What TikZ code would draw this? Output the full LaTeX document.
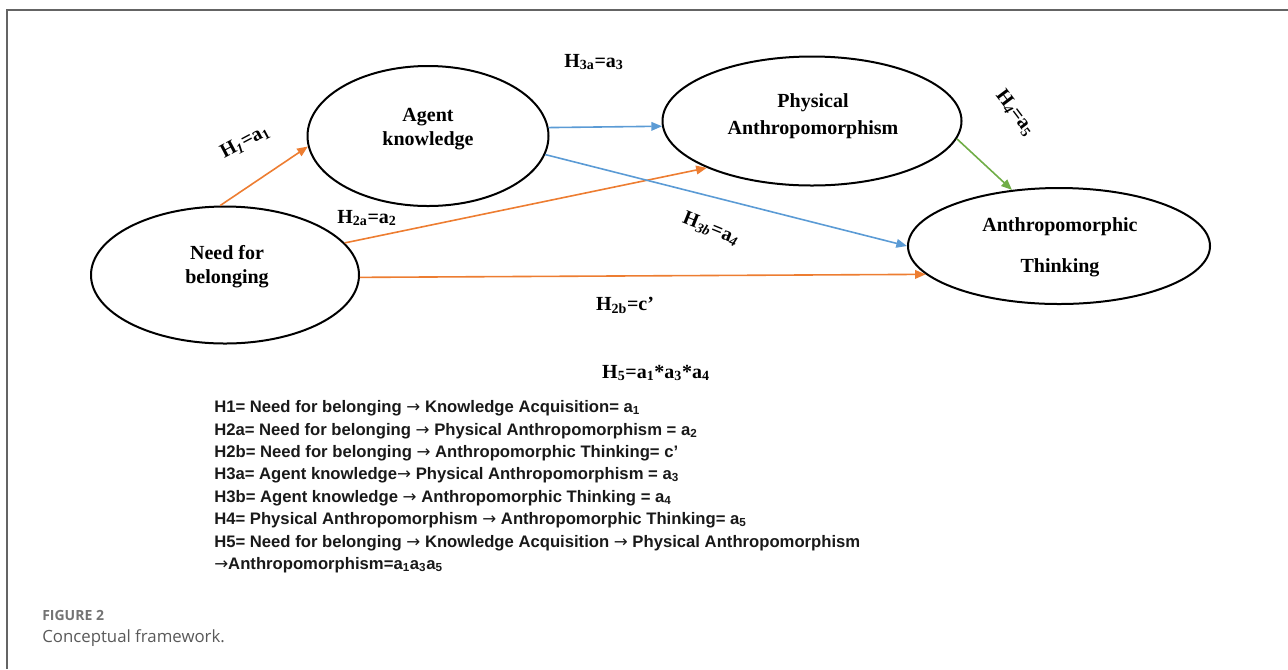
\documentclass[tikz,border=0pt]{standalone}
\usepackage{fontspec}
\setmainfont{Liberation Serif}
\newfontfamily\listfont{Liberation Sans}
\newfontfamily\capfont{Open Sans}
\newfontfamily\arrowfont{DejaVu Sans}
\newcommand\toarrow{{\arrowfont\mdseries →}}
\usetikzlibrary{shapes.geometric,arrows.meta}
\definecolor{orangeline}{HTML}{ED7D31}
\definecolor{blueline}{HTML}{5B9BD5}
\definecolor{greenline}{HTML}{70AD47}

\begin{document}
\begin{tikzpicture}[x=0.75pt,y=0.75pt,yscale=-1,xscale=1,
        construct/.style={draw,ellipse,line width=1.5pt,inner sep=0pt},
        constext/.style={align=center,inner sep=0.75pt,font=\fontsize{15}{18}\selectfont\bfseries},
        hyplabel/.style={inner sep=0.75pt,font=\fontsize{15}{18}\selectfont\bfseries},
        link/.style={line width=1.2pt,-{Triangle[length=8pt,width=6.5pt]}},
        listline/.style={anchor=base west,inner sep=0pt,text={black!90},font=\listfont\bfseries\fontsize{12.5}{15}\selectfont},
        figcap/.style={anchor=base west,inner sep=0pt}]
        \useasboundingbox (0,0) rectangle (1288,669);
        
        %Straight Lines (frame)
        \draw [color={rgb,255:red,100;green,100;blue,100},line width=1pt] (7,669) -- (7,10) -- (1288,10) ;
        
        %Shape: Ellipse
        \node [construct,minimum width=201pt,minimum height=102.75pt] (nfb) at (225,275) {};
        %Shape: Ellipse
        \node [construct,minimum width=180.75pt,minimum height=105pt] (agent) at (428,136) {};
        %Shape: Ellipse
        \node [construct,minimum width=224.25pt,minimum height=96.75pt] (phys) at (812,121) {};
        %Shape: Ellipse
        \node [construct,minimum width=226.5pt,minimum height=87pt] (think) at (1059,246) {};
        
        % Text Node
        \node [constext] (nfbtext) at (227,267) {Need for\\belonging};
        % Text Node
        \node [constext] (agenttext) at (428,129) {Agent\\knowledge};
        % Text Node
        \node [constext] (phystext) at (813,116) {Physical\\[2pt]Anthropomorphism};
        % Text Node
        \node [constext] (thinktext) at (1060,247) {Anthropomorphic\\[12.75pt]Thinking};
        
        %Straight Lines
        \draw [link,orangeline] (nfb.94) -- (agent.185) ;
        %Straight Lines
        \draw [link,orangeline] (nfb.15) -- (phys.204) ;
        %Straight Lines
        \draw [link,orangeline] (nfb.-1) -- (think.192) ;
        %Straight Lines
        \draw [link,blueline] (agent.4) -- (phys.182) ;
        %Straight Lines
        \draw [link,blueline] (agent.-9) -- (think.180) ;
        %Straight Lines
        \draw [link,greenline] (phys.-7) -- (think.130) ;
        
        % Text Node
        \node [hyplabel,rotate=28] (hone) at (245,142) {H\textsubscript{\textit{1}}=a\textsubscript{1}};
        % Text Node
        \node [hyplabel] (htwoa) at (367,218) {H\textsubscript{2a}=a\textsubscript{2}};
        % Text Node
        \node [hyplabel] (hthreea) at (594,62) {H\textsubscript{3a}=a\textsubscript{3}};
        % Text Node
        \node [hyplabel,rotate=-22] (hthreeb) at (711,229) {H\textsubscript{\textit{3b}}=a\textsubscript{\textit{4}}};
        % Text Node
        \node [hyplabel,rotate=-53] (hfour) at (1015,113) {H\textsubscript{\textit{4}}=a\textsubscript{5}};
        % Text Node
        \node [hyplabel] (htwob) at (625,305) {H\textsubscript{2b}=c’};
        % Text Node
        \node [hyplabel] (hfive) at (656,373) {H\textsubscript{5}=a\textsubscript{1}*a\textsubscript{3}*a\textsubscript{4}};
        
        % Text Node
        \node [listline] (lone) at (214,412) {H1= Need for belonging \toarrow{} Knowledge Acquisition= a\textsubscript{1}};
        % Text Node
        \node [listline] (ltwoa) at (214,435) {H2a= Need for belonging \toarrow{} Physical Anthropomorphism = a\textsubscript{2}};
        % Text Node
        \node [listline] (ltwob) at (214,457) {H2b= Need for belonging \toarrow{} Anthropomorphic Thinking= c’};
        % Text Node
        \node [listline] (lthreea) at (214,479) {H3a= Agent knowledge\toarrow{} Physical Anthropomorphism = a\textsubscript{3}};
        % Text Node
        \node [listline] (lthreeb) at (214,502) {H3b= Agent knowledge \toarrow{} Anthropomorphic Thinking = a\textsubscript{4}};
        % Text Node
        \node [listline] (lfour) at (214,524) {H4= Physical Anthropomorphism \toarrow{} Anthropomorphic Thinking= a\textsubscript{5}};
        % Text Node
        \node [listline] (lfive) at (214,547) {H5= Need for belonging \toarrow{} Knowledge Acquisition \toarrow{} Physical Anthropomorphism};
        % Text Node
        \node [listline] (lsix) at (214,569) {\toarrow{}Anthropomorphism=a\textsubscript{1}a\textsubscript{3}a\textsubscript{5}};
        
        % Text Node
        \node [figcap,font=\capfont\bfseries\fontsize{10.5}{12}\selectfont,text={black!55}] (figno) at (42,620) {FIGURE 2};
        % Text Node
        \node [figcap,font=\capfont\fontsize{12.6}{15}\selectfont,text={black!65}] (figtitle) at (42,642) {Conceptual framework.};
        
\end{tikzpicture}
\end{document}
